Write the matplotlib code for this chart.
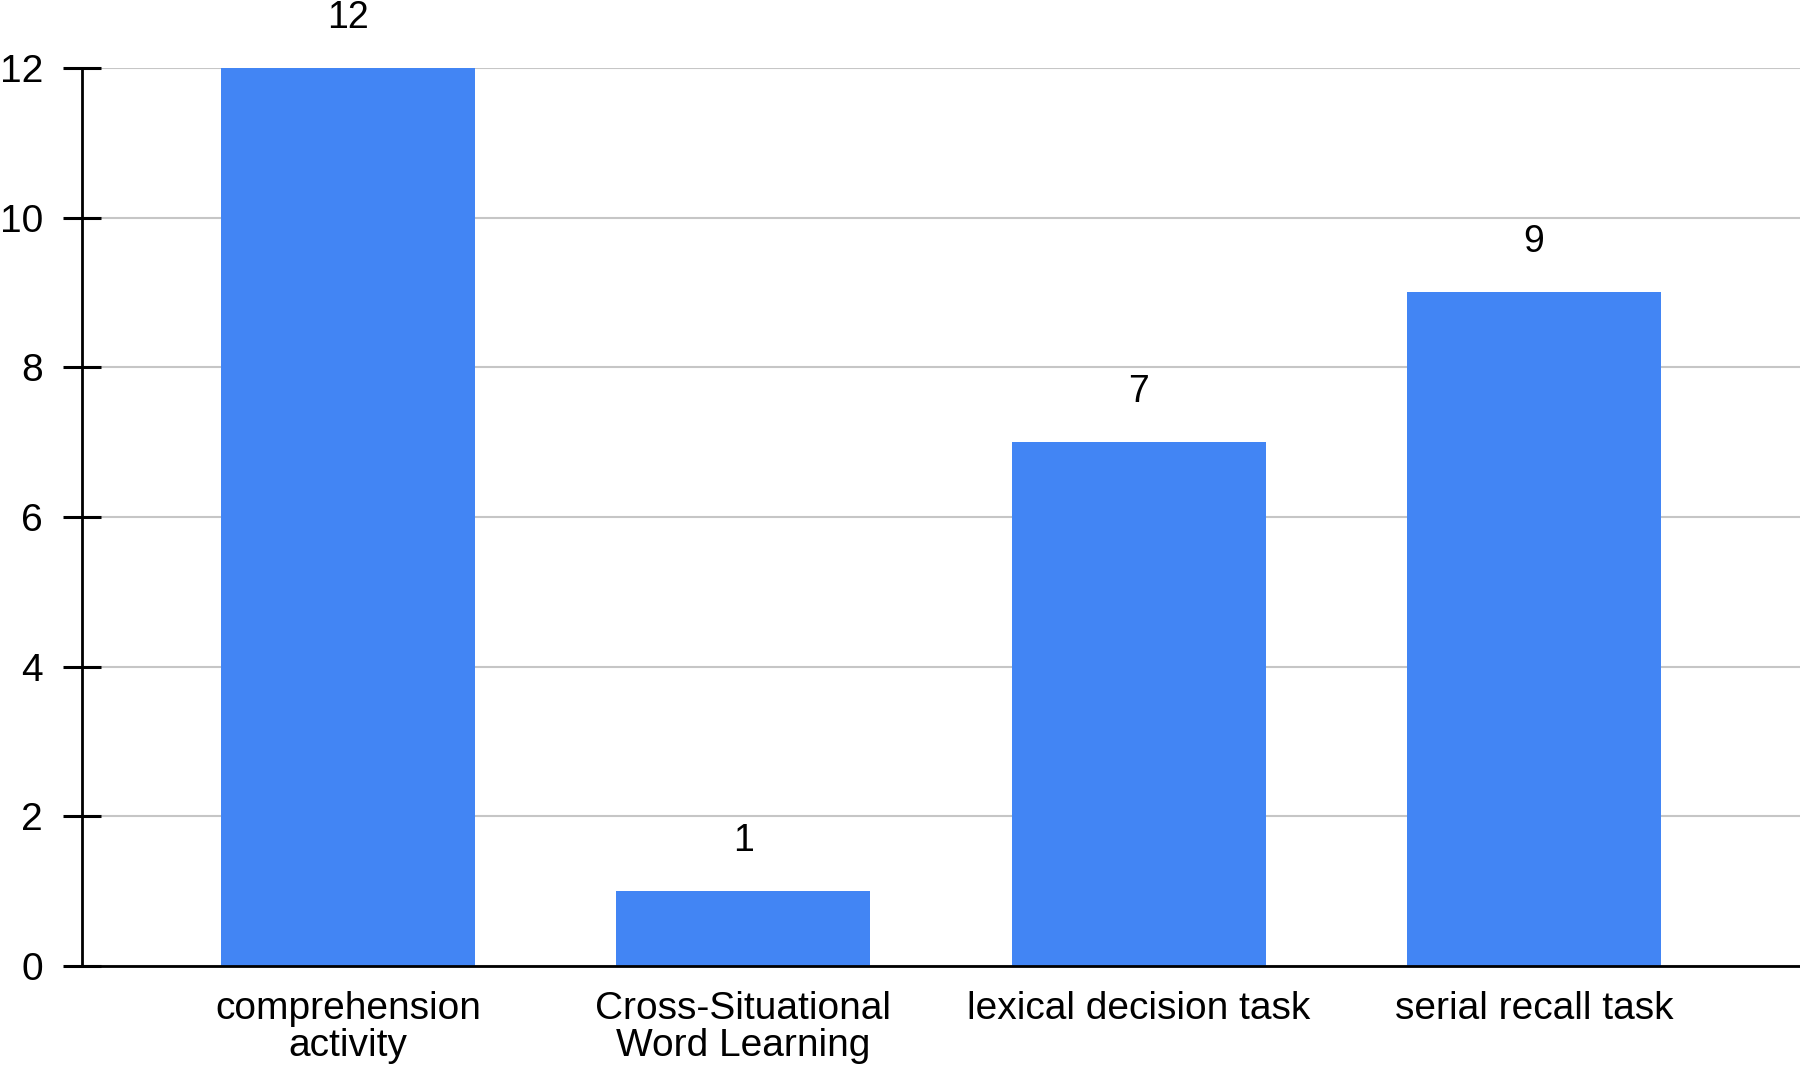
import matplotlib.pyplot as plt
import numpy as np

plt.rcParams["font.family"] = ["Liberation Sans", "DejaVu Sans"]

CATEGORIES = [
    "comprehension\nactivity",
    "Cross-Situational\nWord Learning",
    "lexical decision task",
    "serial recall task",
]
COUNTS = [12, 1, 7, 9]
Y_TICKS = [0, 2, 4, 6, 8, 10, 12]

BAR_COLOR = "#4285F4"
GRID_COLOR = "#c6c6c6"


def main() -> None:
    fig = plt.figure(figsize=(18, 10.69), dpi=100)
    ax = fig.add_axes([0.0456, 0.0964, 0.9544, 0.8400])

    x = np.arange(len(CATEGORIES))
    bars = ax.bar(x, COUNTS, width=0.643, color=BAR_COLOR, zorder=3)

    for rect, val in zip(bars, COUNTS):
        ax.annotate(
            str(val),
            (rect.get_x() + rect.get_width() / 2, rect.get_height()),
            xytext=(0, 29),
            textcoords="offset points",
            ha="center",
            va="baseline",
            fontsize=27,
        )

    ax.set_xlim(-0.673, len(CATEGORIES) - 1 + 0.673)
    ax.set_ylim(0, 12)
    ax.set_yticks(Y_TICKS)
    ax.set_xticks(x)
    ax.set_xticklabels(CATEGORIES, fontsize=28, linespacing=1.05)

    ax.yaxis.grid(True, color=GRID_COLOR, linewidth=1.5, zorder=0)
    ax.set_axisbelow(True)

    for side in ("top", "right"):
        ax.spines[side].set_visible(False)
    ax.spines["left"].set_linewidth(2)
    ax.spines["bottom"].set_linewidth(2)
    ax.spines["bottom"].set_zorder(4)

    ax.tick_params(axis="y", direction="inout", length=28, width=2.2,
                   labelsize=28, pad=14)
    ax.tick_params(axis="x", length=0, pad=18)

    fig.savefig("out.png", dpi=100)
    plt.close(fig)


if __name__ == "__main__":
    main()
